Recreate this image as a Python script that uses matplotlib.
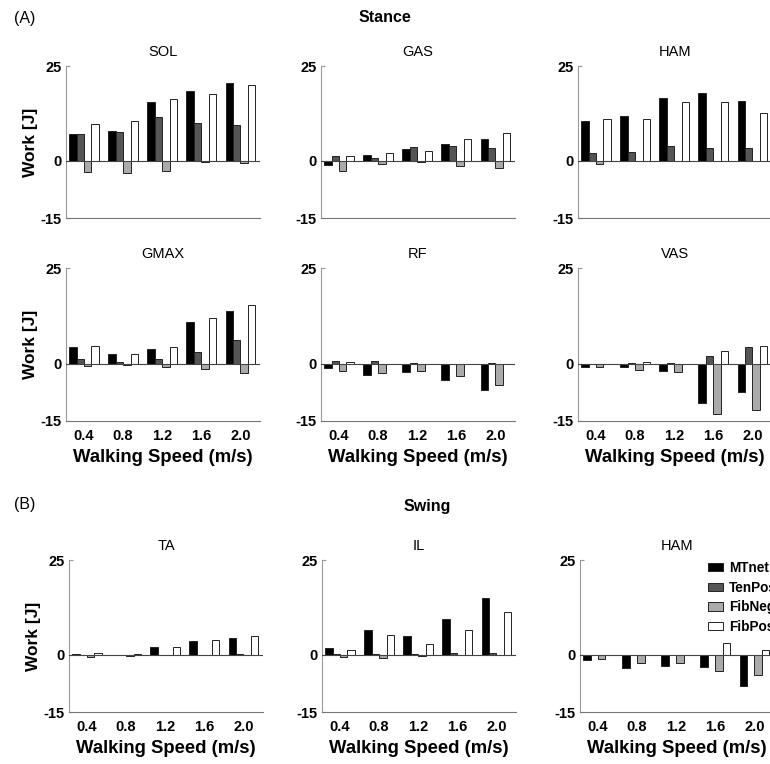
import numpy as np
import matplotlib.pyplot as plt
from matplotlib.patches import Patch

plt.rcParams['font.family'] = ['Liberation Sans', 'DejaVu Sans']

speeds = ['0.4', '0.8', '1.2', '1.6', '2.0']
series = ['MTnet', 'TenPos', 'FibNeg', 'FibPos']
colors = ['#000000', '#555555', '#aaaaaa', '#ffffff']

# work [J] per speed, order: MTnet, TenPos, FibNeg, FibPos
sol = [[7.1, 7.8, 15.4, 18.4, 20.5],
       [7.1, 7.6, 11.5, 9.9, 9.6],
       [-3.0, -3.2, -2.7, -0.2, -0.6],
       [9.8, 10.6, 16.2, 17.6, 19.9]]
gas = [[-1.0, 1.6, 3.2, 4.6, 5.7],
       [1.4, 0.8, 3.8, 3.9, 3.4],
       [-2.5, -0.9, -0.2, -1.2, -1.9],
       [1.2, 2.1, 2.7, 5.7, 7.3]]
ham_st = [[10.6, 11.8, 16.7, 17.8, 15.9],
          [2.0, 2.5, 4.0, 3.3, 3.4],
          [-0.9, 0.0, 0.0, 0.0, 0.0],
          [11.0, 11.1, 15.4, 15.4, 12.6]]
gmax = [[4.4, 2.6, 3.9, 11.0, 13.7],
        [1.1, 0.35, 1.1, 3.0, 6.2],
        [-0.6, -0.3, -0.8, -1.5, -2.4],
        [4.6, 2.4, 4.3, 11.8, 15.3]]
rf = [[-1.2, -2.9, -2.3, -4.3, -6.9],
      [0.7, 0.8, 0.15, 0.0, 0.15],
      [-1.8, -2.5, -1.8, -3.2, -5.6],
      [0.4, 0.0, 0.0, 0.0, 0.0]]
vas = [[-0.9, -1.0, -1.9, -10.3, -7.3],
       [0.0, 0.25, 0.25, 2.1, 4.4],
       [-0.9, -1.6, -2.1, -13.3, -12.1],
       [0.0, 0.5, 0.0, 3.2, 4.5]]
ta = [[0.2, 0.1, 2.0, 3.7, 4.6],
      [0.0, 0.0, 0.0, 0.0, 0.15],
      [-0.6, -0.2, 0.0, 0.0, 0.0],
      [0.5, 0.25, 2.0, 3.9, 5.0]]
il = [[1.9, 6.6, 5.1, 9.6, 14.9],
      [0.25, 0.35, 0.25, 0.45, 0.6],
      [-0.45, -0.8, -0.25, 0.0, 0.0],
      [1.3, 5.3, 3.0, 6.5, 11.4]]
ham_sw = [[-1.4, -3.3, -2.9, -3.2, -8.1],
          [0.0, 0.0, 0.0, 0.0, 0.0],
          [-1.1, -2.1, -2.1, -4.2, -5.3],
          [0.0, 0.0, 0.0, 3.2, 1.2]]

W, H = 770, 764
fig = plt.figure(figsize=(W / 100, H / 100), dpi=100)


def make_axes(left, top, bottom, width=194):
    return fig.add_axes([left / W, 1 - bottom / H, width / W, (bottom - top) / H])


def draw_panel(ax, data, title, xlab=True, ylab=False):
    x = np.arange(1, 6)
    w = 0.19
    for i, vals in enumerate(data):
        ax.bar(x + (i - 1.5) * w, vals, w, color=colors[i], edgecolor='#222222', linewidth=0.7, zorder=2)
    ax.axhline(0, color='#444444', lw=0.8, zorder=3)
    ax.set_xlim(0.54, 5.5)
    ax.set_ylim(-15, 25)
    ax.set_yticks([-15, 0, 25])
    ax.set_yticklabels(['-15', '0', '25'], fontsize=10.5, fontweight='bold')
    ax.spines['top'].set_visible(False)
    ax.spines['right'].set_visible(False)
    ax.spines['left'].set_color('#999999')
    ax.spines['bottom'].set_color('#777777')
    ax.tick_params(axis='y', direction='in', length=3, color='#999999', pad=3)
    ax.tick_params(axis='x', length=0, pad=6)
    ax.set_xticks(x)
    if xlab:
        ax.set_xticklabels(speeds, fontsize=10.5, fontweight='bold')
        ax.set_xlabel('Walking Speed (m/s)', fontsize=13.3, fontweight='bold', labelpad=4)
    else:
        ax.set_xticklabels([])
    if ylab:
        ax.set_ylabel('Work [J]', fontsize=12.5, fontweight='bold', labelpad=2)
    ax.set_title(title, fontsize=10.5, pad=7)


lefts = [66, 321, 578]
ax = make_axes(lefts[0], 66, 218); draw_panel(ax, sol, 'SOL', xlab=False, ylab=True)
ax = make_axes(lefts[1], 66, 218); draw_panel(ax, gas, 'GAS', xlab=False)
ax = make_axes(lefts[2], 66, 218); draw_panel(ax, ham_st, 'HAM', xlab=False)
ax = make_axes(lefts[0], 268, 421); draw_panel(ax, gmax, 'GMAX', ylab=True)
ax = make_axes(lefts[1], 268, 421); draw_panel(ax, rf, 'RF')
ax = make_axes(lefts[2], 268, 421); draw_panel(ax, vas, 'VAS')
ax = make_axes(69, 560, 712); draw_panel(ax, ta, 'TA', ylab=True)
ax = make_axes(322, 560, 712); draw_panel(ax, il, 'IL')
ax = make_axes(580, 560, 712); draw_panel(ax, ham_sw, 'HAM')

handles = [Patch(facecolor=c, edgecolor='#222222', linewidth=0.7) for c in colors]
leg = ax.legend(handles, series, loc='upper left', bbox_to_anchor=(0.63, 1.03), frameon=False,
                prop={'weight': 'bold', 'size': 9.8}, handlelength=1.1, handleheight=0.55,
                labelspacing=0.42, handletextpad=0.45, borderaxespad=0)

fig.text(385 / W, 1 - 18 / H, 'Stance', ha='center', va='center', fontsize=11.5, fontweight='bold')
fig.text(427 / W, 1 - 507 / H, 'Swing', ha='center', va='center', fontsize=11.5, fontweight='bold')
fig.text(14 / W, 1 - 18 / H, '(A)', ha='left', va='center', fontsize=11.5)
fig.text(14 / W, 1 - 505 / H, '(B)', ha='left', va='center', fontsize=11.5)

fig.savefig('out.png', dpi=100)
